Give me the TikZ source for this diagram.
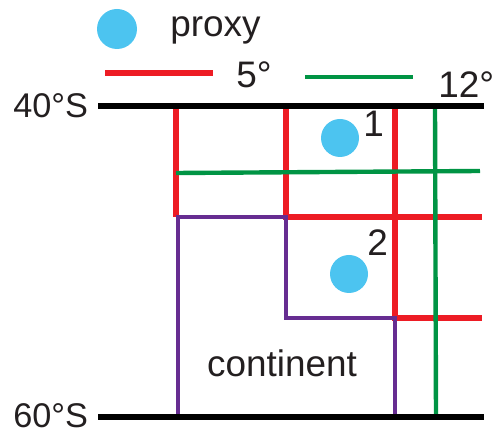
\documentclass[tikz,border=0pt]{standalone}
\usepackage{fontspec}
\setmainfont{Liberation Sans}
\usetikzlibrary{positioning}

\definecolor{proxyblue}{RGB}{76,196,240}
\definecolor{gridred}{RGB}{237,28,36}
\definecolor{gridgreen}{RGB}{0,148,68}
\definecolor{landpurple}{RGB}{102,45,145}
\definecolor{inkdark}{RGB}{35,31,32}

\begin{document}
\begin{tikzpicture}[
    x=0.2mm, y=-0.2mm,
    every node/.style={font=\fontsize{21}{24}\selectfont, text=inkdark, inner sep=0pt},
    dot/.style={circle, fill=proxyblue, minimum size=0.76cm},
    latlabel/.style={anchor=base west, font=\fontsize{19.5}{24}\selectfont},
    lat/.style={line width=3.7pt, black},
    fine/.style={line width=3.1pt, gridred},
    coarse/.style={line width=2.5pt, gridgreen},
    land/.style={line width=2.3pt, landpurple}
]
\useasboundingbox (0,0) rectangle (494,434);
% Legend
\node[dot, minimum size=0.8cm] (legdot) at (117,29) {};
\node[anchor=base west] (legproxy) at (170,37) {proxy};
\coordinate (redA) at (105,73);
\coordinate (redB) at (213,73);
\coordinate (grnA) at (305,77);
\coordinate (grnB) at (413,77);
\draw[fine] (redA) -- (redB);
\draw[coarse] (grnA) -- (grnB);
\node[anchor=base west] (leg5) at (236,88) {5°};
\node[anchor=base west] (leg12) at (438,98) {12°};
% 5 degree grid
\draw[fine] (176,106) -- (176,217);
\draw[fine] (286,106) -- (286,217) -- (482,217);
\draw[fine] (395,106) -- (395,318) -- (482,318);
% 12 degree grid
\draw[coarse] (176,173) -- (480,171);
\draw[coarse] (435,106) -- (436,417);
% Continent outline
\draw[land] (178,417) -- (178,217) -- (286,217) -- (286,318) -- (395,318) -- (395,417);
\node[anchor=base] (cont) at (282,377) {continent};
% Latitude bounds
\node[latlabel] (n40) at (13,118) {40°S};
\node[latlabel] (n60) at (13,428) {60°S};
\draw[lat] (98,106) -- (484,106);
\draw[lat] (98,417) -- (484,417);
% Proxies
\node[dot] (p1) at (340,138) {};
\node[anchor=base west] (lab1) at (363,137) {1};
\node[dot] (p2) at (349,274) {};
\node[anchor=base west] (lab2) at (367,256) {2};
\end{tikzpicture}
\end{document}
